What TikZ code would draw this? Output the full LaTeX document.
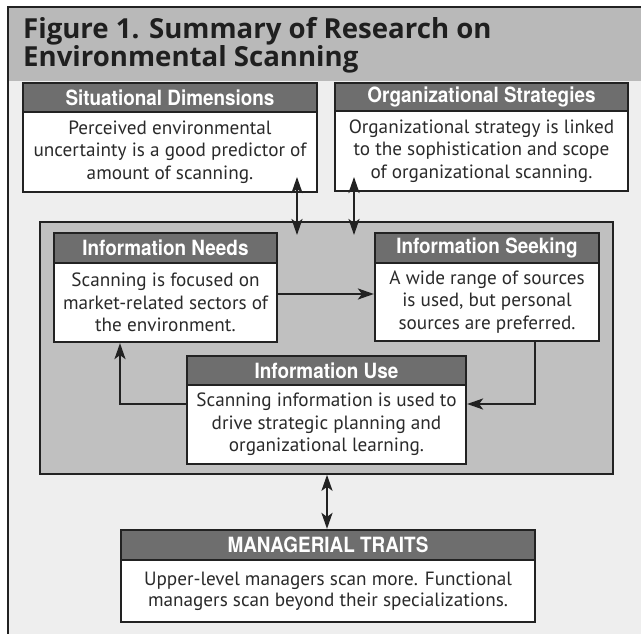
\documentclass[tikz,border=0pt]{standalone}
\usepackage{fontspec}
\setmainfont{PT Sans}
\newfontfamily\headfont[FakeStretch=0.9]{TeX Gyre Heros}
\newfontfamily\titlefont{Open Sans}
\usetikzlibrary{arrows.meta,calc}
\definecolor{bandgray}{HTML}{B9B9B9}
\definecolor{bodybg}{HTML}{EEEEEE}
\definecolor{panelgray}{HTML}{C0C0C0}
\definecolor{hdrgray}{HTML}{6E6E6E}
\definecolor{linec}{HTML}{222222}
\definecolor{txtc}{HTML}{2A2A2A}
\tikzset{
  hdr/.style={draw=linec, line width=2.2pt, fill=hdrgray, text=white, inner sep=0pt,
    font=\headfont\bfseries\fontsize{21}{22}\selectfont},
  bodybox/.style={draw=linec, line width=2.2pt, fill=white, text=txtc, inner sep=0pt, align=center,
    font=\fontsize{19.2}{22.5}\selectfont},
  panelbox/.style={draw=linec, line width=1.6pt, fill=panelgray, inner sep=0pt},
  tip/.tip={Stealth[length=16pt,width=11pt,inset=4pt]},
  arr/.style={line width=2.4pt, draw=linec, -tip},
  dbl/.style={line width=2.4pt, draw=linec, tip-tip},
  frameline/.style={draw=linec, line width=2.4pt}
}
\begin{document}
\begin{tikzpicture}[x=1pt,y=-1pt]
\useasboundingbox (0,0) rectangle (641,634);
\fill[white] (0,0) rectangle (641,634);
\fill[bodybg] (8,7) rectangle (641,634);
\fill[bandgray] (8,7) rectangle (641,81);
\draw[frameline] (8,640) -- (8,7) -- (645,7);
% title
\node[anchor=north west, inner sep=0pt, align=left, text=black!88,
  font=\titlefont\bfseries\fontsize{27.6}{28.5}\selectfont] (title) at (23,17)
  {Figure 1. Summary of Research on\\Environmental Scanning};
% top boxes
\node[bodybox, minimum width=294pt, minimum height=80pt] (sit) at (170,152)
  {Perceived environmental\\uncertainty is a good predictor of\\amount of scanning.};
\node[hdr, minimum width=294pt, minimum height=29pt] (sith) at (170,97.5) {Situational Dimensions};
\node[bodybox, minimum width=293pt, minimum height=80pt] (org) at (481.5,151)
  {Organizational strategy is linked\\to the sophistication and scope\\of organizational scanning.};
\node[hdr, minimum width=293pt, minimum height=28pt] (orgh) at (481.5,97) {Organizational Strategies};
% panel
\node[panelbox, minimum width=573pt, minimum height=252pt] (panel) at (326.5,348) {};
% inner boxes
\node[bodybox, minimum width=223pt, minimum height=79pt] (needs) at (165.5,302.5)
  {Scanning is focused on\\market-related sectors of\\the environment.};
\node[hdr, minimum width=223pt, minimum height=30pt] (needsh) at (165.5,248) {Information Needs};
\node[bodybox, minimum width=224pt, minimum height=78pt] (seek) at (487,302)
  {A wide range of sources\\is used, but personal\\sources are preferred.};
\node[hdr, minimum width=224pt, minimum height=30pt] (seekh) at (487,248) {Information Seeking};
\node[bodybox, minimum width=279pt, minimum height=79pt] (use) at (326.5,424.5)
  {Scanning information is used to\\drive strategic planning and\\organizational learning.};
\node[hdr, minimum width=279pt, minimum height=29pt] (useh) at (326.5,370.5) {Information Use};
% managerial
\node[bodybox, minimum width=414pt, minimum height=62pt, font=\fontsize{19.2}{21}\selectfont] (mgr) at (328,591)
  {Upper-level managers scan more. Functional\\managers scan beyond their specializations.};
\node[hdr, minimum width=414pt, minimum height=30pt] (mgrh) at (328,545) {MANAGERIAL TRAITS};
% connectors
\coordinate (a1t) at (297,177);
\coordinate (a1b) at (297,235);
\coordinate (a2t) at (354,177);
\coordinate (a2b) at (354,235);
\draw[dbl] (a1t) -- (a1b);
\draw[dbl] (a2t) -- (a2b);
\coordinate (yns) at (0,294);
\draw[arr] (needs.east |- yns) -- (seek.west |- yns);
\coordinate (c1) at (535,404);
\draw[arr] (seek.south -| c1) |- (use.east |- c1);
\coordinate (c2) at (120,404);
\draw[arr] (use.west |- c2) -| (needs.south -| c2);
\coordinate (c3) at (327,0);
\draw[dbl] (panel.south -| c3) -- (mgrh.north -| c3);
\end{tikzpicture}
\end{document}
